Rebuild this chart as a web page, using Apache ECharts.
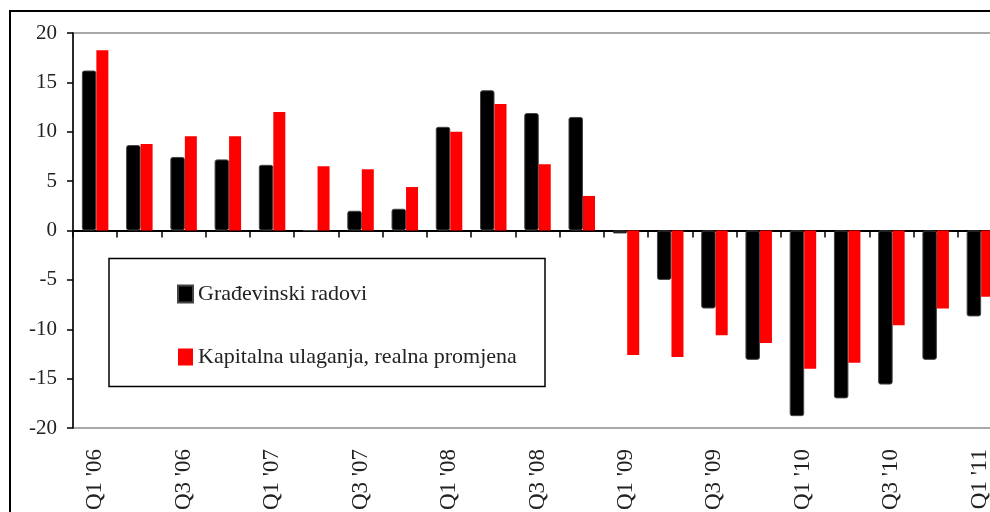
<!DOCTYPE html>
<html>
<head>
<meta charset="utf-8">
<script src="https://cdn.jsdelivr.net/npm/echarts@6/dist/echarts.min.js"></script>
<style>
html,body{margin:0;padding:0;background:#fff;}
#chart{width:990px;height:512px;}
</style>
</head>
<body>
<div id="chart"></div>
<script>
var categories = ["Q1 '06","Q2 '06","Q3 '06","Q4 '06","Q1 '07","Q2 '07","Q3 '07","Q4 '07","Q1 '08","Q2 '08","Q3 '08","Q4 '08","Q1 '09","Q2 '09","Q3 '09","Q4 '09","Q1 '10","Q2 '10","Q3 '10","Q4 '10","Q1 '11"];
var gradjevinski = [16.2, 8.65, 7.45, 7.2, 6.65, 0, 2.0, 2.2, 10.5, 14.2, 11.9, 11.5, -0.3, -5.0, -7.9, -13.1, -18.8, -17.0, -15.6, -13.1, -8.7];
var kapitalna = [18.25, 8.75, 9.55, 9.55, 12.0, 6.5, 6.2, 4.4, 10.0, 12.8, 6.7, 3.5, -12.6, -12.8, -10.6, -11.4, -14.0, -13.4, -9.6, -7.9, -6.7];
var seriesNames = ["Građevinski radovi", "Kapitalna ulaganja, realna promjena"];
var yMin = -20, yMax = 20, yStep = 5;

var font = "'Liberation Serif','DejaVu Serif',serif";
var chart = echarts.init(document.getElementById('chart'), null, {renderer: 'canvas'});
chart.setOption({
  animation: false,
  backgroundColor: '#fff',
  grid: {left: 73, top: 33, width: 929, height: 395, outerBoundsMode: 'none', containLabel: false,
         show: true, borderColor: '#8c8c8c', borderWidth: 1.5, backgroundColor: 'transparent'},
  graphic: [
    {type: 'rect', z: 0, silent: true, shape: {x: 10, y: 11, width: 1100, height: 700}, style: {fill: 'none', stroke: '#000', lineWidth: 2}},
    {type: 'rect', z: 50, silent: true, shape: {x: 109, y: 258.5, width: 436, height: 128}, style: {fill: '#fff', stroke: '#000', lineWidth: 1.5}}
  ],
  legend: {
    z: 60,
    orient: 'vertical',
    left: 172, top: 278,
    itemWidth: 15, itemHeight: 17,
    itemGap: 41,
    icon: 'rect',
    data: seriesNames,
    textStyle: {fontFamily: font, fontSize: 22, color: '#222', lineHeight: 22}
  },
  xAxis: [
    {
      type: 'category', data: categories, position: 'bottom',
      axisLine: {onZero: true, lineStyle: {color: '#000', width: 2}},
      axisTick: {show: true, interval: 0, length: 7, lineStyle: {color: '#000', width: 1.5}},
      axisLabel: {show: false},
      splitLine: {show: false}
    },
    {
      type: 'category', data: categories, position: 'bottom',
      axisLine: {show: false, onZero: false},
      axisTick: {show: false},
      axisLabel: {show: true, rotate: 90, interval: 1, margin: 21, fontFamily: font, fontSize: 23, color: '#222'},
      splitLine: {show: false}
    }
  ],
  yAxis: {
    type: 'value', min: yMin, max: yMax, interval: yStep,
    axisLine: {show: true, lineStyle: {color: '#000', width: 1.5}},
    axisTick: {show: true, length: 6, lineStyle: {color: '#000', width: 1.5}},
    axisLabel: {margin: 16, fontFamily: font, fontSize: 21, color: '#222', padding: [0, 0, 8, 0]},
    splitLine: {show: false}
  },
  series: [
    {name: seriesNames[0], type: 'bar', xAxisIndex: 0, data: gradjevinski, barWidth: 14.5, barGap: '0%',
     itemStyle: {color: '#000', borderColor: '#444', borderWidth: 1, borderRadius: 2}},
    {name: seriesNames[1], type: 'bar', xAxisIndex: 0, data: kapitalna, barWidth: 12, barGap: '0%',
     itemStyle: {color: '#ff0000'}}
  ]
});
</script>
</body>
</html>
